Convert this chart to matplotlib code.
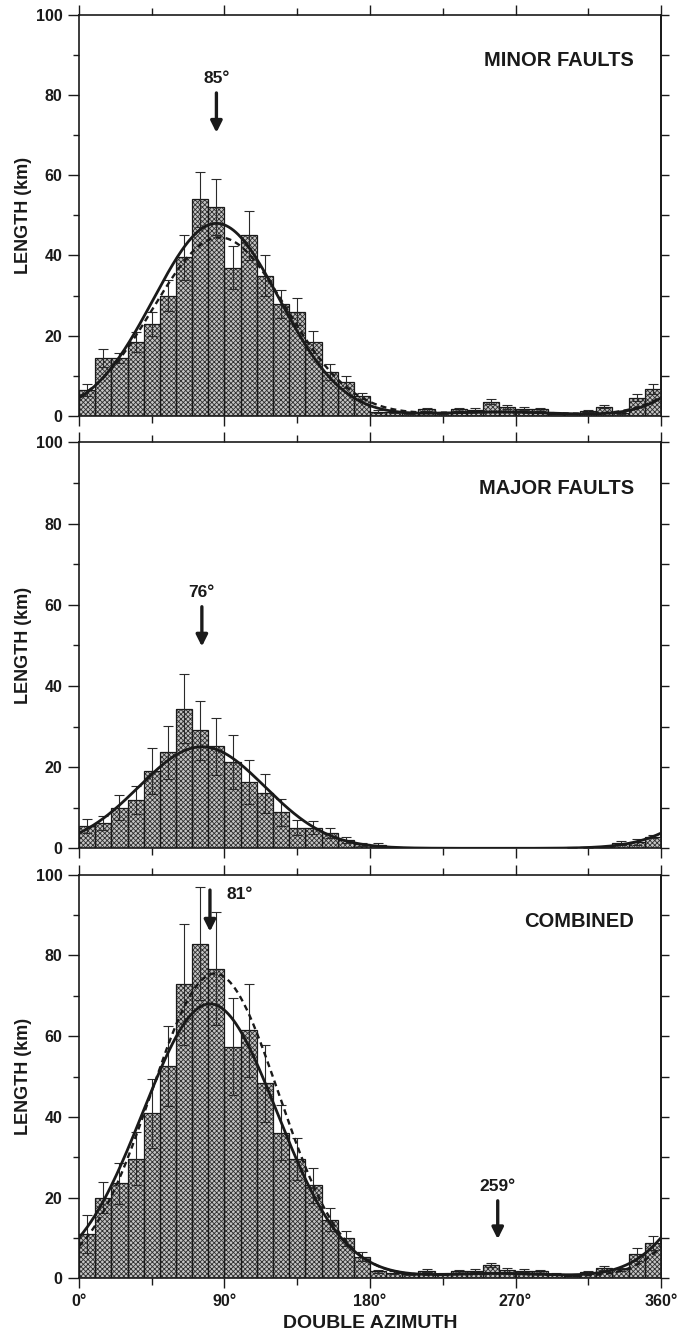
import numpy as np
import matplotlib.pyplot as plt
from matplotlib.ticker import MultipleLocator

plt.rcParams['font.family'] = ['Liberation Sans', 'DejaVu Sans']
plt.rcParams['font.weight'] = 'bold'
plt.rcParams['hatch.linewidth'] = 0.6

SAIDA = "out.png"

# histogram bins, 10 degrees wide over the double azimuth
BIN_LEFT = np.arange(0, 360, 10)
BIN_WIDTH = 10

minor_len = [6.5, 14.5, 14.5, 18.5, 23.0, 30.0, 39.5, 54.0, 52.0, 37.0, 45.0, 35.0,
             28.0, 26.0, 18.5, 11.0, 8.5, 5.0, 1.1, 1.0, 0.8, 1.7, 0.8, 1.7,
             1.5, 3.6, 2.3, 1.8, 1.7, 0.5, 0.5, 1.2, 2.3, 0.8, 4.6, 6.8]
minor_err = [1.5, 2.3, 1.2, 2.5, 3.0, 3.8, 5.5, 6.8, 7.0, 5.4, 6.2, 5.0,
             3.5, 3.3, 2.8, 2.0, 1.5, 0.8, 0.3, 0.3, 0.3, 0.4, 0.3, 0.4,
             0.4, 0.7, 0.5, 0.4, 0.4, 0.2, 0.2, 0.3, 0.4, 0.2, 0.9, 1.2]

major_len = [5.5, 6.3, 10.0, 11.9, 19.0, 23.6, 34.4, 29.1, 25.1, 21.3, 16.3, 13.5,
             8.9, 5.1, 5.1, 3.7, 2.0, 1.0, 0.8, 0.3, 0.0, 0.0, 0.0, 0.0,
             0.0, 0.0, 0.0, 0.0, 0.0, 0.0, 0.1, 0.2, 0.3, 1.4, 1.6, 2.9]
major_err = [1.7, 1.7, 3.1, 3.5, 5.6, 6.5, 8.5, 7.3, 7.1, 6.6, 5.4, 4.7,
             3.3, 1.9, 1.6, 1.2, 0.7, 0.4, 0.4, 0.1, 0.0, 0.0, 0.0, 0.0,
             0.0, 0.0, 0.0, 0.0, 0.0, 0.0, 0.1, 0.1, 0.1, 0.5, 0.7, 0.4]

comb_len = [11.0, 20.0, 23.5, 29.6, 40.9, 52.6, 72.8, 82.9, 76.7, 57.4, 61.4, 48.3,
            36.1, 29.6, 23.0, 14.5, 9.9, 5.4, 1.7, 1.4, 1.1, 1.9, 1.1, 1.7,
            1.9, 3.3, 2.1, 1.9, 1.7, 1.1, 0.6, 1.5, 2.6, 2.2, 5.9, 8.8]
comb_err = [4.8, 3.8, 5.0, 6.6, 8.6, 10.0, 15.0, 14.0, 14.0, 12.0, 11.5, 9.5,
            6.8, 5.2, 4.4, 2.8, 1.8, 1.0, 0.3, 0.3, 0.3, 0.4, 0.3, 0.4,
            0.4, 0.6, 0.5, 0.4, 0.4, 0.3, 0.2, 0.3, 0.5, 0.4, 1.7, 1.8]

# mean directions (deg) of the fitted distributions
mean_dir = [85, 76, 81]
second_mode = 259

# fitted curve parameters: peak length (km), spread (deg)
solid_peak = [48.0, 25.0, 68.0]
solid_sigma = [39.0, 39.0, 41.4]
dashed_peak = [44.5, None, 75.5]
dashed_center = [87, None, 84]
dashed_sigma = [41.0, None, 39.5]
second_peak = [1.0, 0.0, 1.2]
second_sigma = 38.0

titles = ["MINOR FAULTS", "MAJOR FAULTS", "COMBINED"]
xtick_labels = ["0°", "90°", "180°", "270°", "360°"]

COR = '#1a1a1a'


def gauss_wrap(theta, amp, mu, sigma):
    soma = np.zeros_like(theta)
    for k in (-1, 0, 1):
        soma += np.exp(-0.5 * ((theta - mu + 360 * k) / sigma) ** 2)
    return amp * soma


def draw_panel(ax, comp, erro, i, bottom_labels):
    centros = BIN_LEFT + BIN_WIDTH / 2
    # hatched fill, then crisp outline on top
    ax.bar(BIN_LEFT, comp, width=BIN_WIDTH, align='edge', color='#c4c4c4',
           edgecolor='#2e2e2e', hatch='xxxxxxx', linewidth=0, zorder=1)
    ax.bar(BIN_LEFT, comp, width=BIN_WIDTH, align='edge', fill=False,
           edgecolor=COR, linewidth=0.9, zorder=2)
    mask = np.array(erro) > 0
    ax.errorbar(centros[mask], np.array(comp)[mask], yerr=np.array(erro)[mask],
                fmt='none', ecolor='#2a2a2a', elinewidth=0.8, capsize=3.8,
                capthick=0.8, zorder=3)

    theta = np.linspace(0, 360, 721)
    y_solid = gauss_wrap(theta, solid_peak[i], mean_dir[i], solid_sigma[i])
    y_solid += gauss_wrap(theta, second_peak[i], second_mode, second_sigma)
    ax.plot(theta, y_solid, color=COR, lw=2.0, zorder=4)
    if dashed_peak[i] is not None:
        y_dash = gauss_wrap(theta, dashed_peak[i], dashed_center[i], dashed_sigma[i])
        y_dash += gauss_wrap(theta, second_peak[i], second_mode, second_sigma)
        ax.plot(theta, y_dash, color=COR, lw=1.7, ls=(0, (2.5, 1.8)), zorder=4)

    ax.set_xlim(0, 360)
    ax.set_ylim(0, 100)
    ax.xaxis.set_major_locator(MultipleLocator(90))
    ax.xaxis.set_minor_locator(MultipleLocator(45))
    ax.yaxis.set_major_locator(MultipleLocator(20))
    ax.yaxis.set_minor_locator(MultipleLocator(10))
    ax.tick_params(axis='x', which='both', direction='out', top=True, bottom=True,
                   width=1.0, color=COR)
    ax.tick_params(axis='x', which='major', length=7)
    ax.tick_params(axis='x', which='minor', length=5)
    ax.tick_params(axis='y', which='major', direction='out', length=8, width=1.0,
                   right=False, color=COR, labelsize=11.5, pad=4)
    ax.tick_params(axis='y', which='minor', direction='out', length=4, width=1.0,
                   right=False, color=COR)
    for lab in ax.get_yticklabels():
        lab.set_fontweight('bold')
        lab.set_color(COR)
    if bottom_labels:
        ax.set_xticks([0, 90, 180, 270, 360])
        ax.set_xticklabels(xtick_labels, fontsize=11.5, fontweight='bold', color=COR)
        ax.tick_params(axis='x', which='major', pad=4)
    else:
        ax.set_xticklabels([])

    direita = ax.secondary_yaxis('right')
    direita.set_yticks(np.arange(0, 101, 10))
    direita.set_yticklabels([])
    direita.tick_params(direction='out', length=6, width=1.0, color=COR)
    direita.spines['right'].set_linewidth(1.2)

    for sp in ax.spines.values():
        sp.set_linewidth(1.2)
        sp.set_color(COR)

    ax.text(0.954, 0.885, titles[i], transform=ax.transAxes, ha='right',
            va='center', fontsize=14.5, fontweight='bold', color=COR)


def add_arrow(ax, x, y_top, y_tip):
    ax.annotate('', xy=(x, y_tip), xytext=(x, y_top),
                arrowprops=dict(arrowstyle='-|>', lw=2.4, color=COR,
                                mutation_scale=17, shrinkA=0, shrinkB=0), zorder=6)


def plot_azimuths():
    fig = plt.figure(figsize=(6.77, 13.35), dpi=100, facecolor='white')
    left, width = 79 / 677, 582 / 677
    ax1 = fig.add_axes([left, 1 - 416 / 1335, width, 401.3 / 1335])
    ax2 = fig.add_axes([left, 1 - 848.3 / 1335, width, 406 / 1335])
    ax3 = fig.add_axes([left, 1 - 1278.3 / 1335, width, 403.6 / 1335])

    draw_panel(ax1, minor_len, minor_err, 0, False)
    draw_panel(ax2, major_len, major_err, 1, False)
    draw_panel(ax3, comb_len, comb_err, 2, True)

    add_arrow(ax1, mean_dir[0], 80.5, 70.6)
    ax1.text(mean_dir[0], 84.2, f"{mean_dir[0]}°", ha='center', va='center',
             fontsize=12.5, fontweight='bold', color=COR)

    add_arrow(ax2, mean_dir[1], 59.5, 49.7)
    ax2.text(mean_dir[1], 63.0, f"{mean_dir[1]}°", ha='center', va='center',
             fontsize=12.5, fontweight='bold', color=COR)

    add_arrow(ax3, mean_dir[2], 96.2, 85.9)
    ax3.text(91.5, 95.0, f"{mean_dir[2]}°", ha='left', va='center',
             fontsize=12.5, fontweight='bold', color=COR)

    add_arrow(ax3, second_mode, 19.2, 9.7)
    ax3.text(second_mode, 22.8, f"{second_mode}°", ha='center', va='center',
             fontsize=12.5, fontweight='bold', color=COR)

    for ax in (ax1, ax2, ax3):
        meio = ax.get_position()
        fig.text(23 / 677, meio.y0 + meio.height / 2, "LENGTH (km)", rotation=90,
                 ha='center', va='center', fontsize=13, fontweight='bold', color=COR)

    fig.text(370 / 677, 1 - 1323 / 1335, "DOUBLE AZIMUTH", ha='center', va='center',
             fontsize=14, fontweight='bold', color=COR)

    fig.savefig(SAIDA, dpi=100, facecolor='white')


if __name__ == "__main__":
    plot_azimuths()
